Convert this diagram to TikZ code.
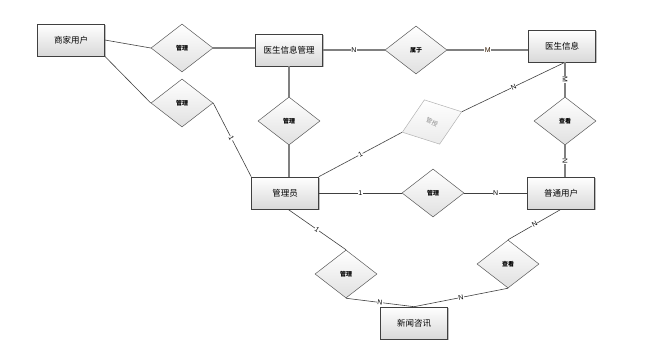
\documentclass[tikz,border=0pt]{standalone}
\usepackage{graphicx}
\usepackage{fontspec}
\newfontfamily\cjk{Noto Sans CJK SC}
\setmainfont{Liberation Sans}
\usetikzlibrary{shapes.geometric,shadows}
\begin{document}
\begin{tikzpicture}[x=1pt,y=-1pt,
  entity/.style={draw=black!75, line width=0.6pt, top color=white, bottom color=black!15,
    minimum width=67pt, minimum height=32pt, inner sep=0pt, font=\cjk\fontsize{8.5}{10}\selectfont,
    drop shadow={shadow xshift=1.2pt, shadow yshift=-1.2pt, fill=black!25, opacity=1}},
  rel/.style={diamond, draw=black!65, line width=0.5pt, top color=white, bottom color=black!12,
    minimum width=62pt, minimum height=48pt, inner sep=0pt, aspect=1.3,
    font=\cjk\bfseries\fontsize{6}{7}\selectfont},
  thin/.style={draw=black!75, line width=0.6pt},
  thick/.style={draw=black!50, line width=1.1pt},
  lab/.style={font=\fontsize{7}{8}\selectfont, fill=white, inner sep=0.4pt, sloped}
]
\useasboundingbox (0,0) rectangle (671,344);

% entities
\node[entity] (sj) at (71,40) {商家用户};
\node[entity] (ysm) at (289,50) {医生信息管理};
\node[entity] (ys) at (562,46) {医生信息};
\node[entity] (gly) at (285,193) {管理员};
\node[entity] (pt) at (561,193) {普通用户};
\node[entity] (xw) at (414,323) {新闻咨讯};

% relations
\node[rel] (r1) at (182,48) {管理};
\node[rel] (r2) at (182,103) {管理};
\node[rel] (r3) at (289,121) {管理};
\node[rel] (r4) at (416,50) {属于};
\node[rel] (r6) at (565,121) {查看};
\node[rel] (r7) at (433,193) {管理};
\node[rel] (r8) at (346,274) {管理};
\node[rel] (r9) at (508,264) {查看};
\node[diamond, draw=black!30, line width=0.5pt, top color=white, bottom color=black!8,
  minimum width=63pt, minimum height=47pt, inner sep=0pt, aspect=1.3, rotate=19,
  font=\cjk\fontsize{6}{7}\selectfont, text=black!45] (r5) at (432,122) {\rotatebox{-44}{管授}};

% connectors
\draw[thin] (sj.east |- 0,40) -- (r1.west);
\draw[thick] (r1.east) -- (ysm.west |- r1.east);
\draw[thin] (sj.south east) -- (r2.west);
\draw[thin] (r2.east) -- node[lab, pos=0.48]{1} (gly.north west);
\draw[thick] (ysm.south) -- (r3.north);
\draw[thick] (r3.south) -- (gly.north -| r3.south);
\draw[thick] (ysm.east) -- node[lab]{N} (r4.west);
\draw[thick] (r4.east) -- node[lab, text=black!80!orange]{M} (ys.west |- r4.east);
\draw[thin] (gly.north east) -- node[lab]{1} (r5.west);
\draw[thin] (r5.east) -- node[lab]{N} (ys.south -| r6.north);
\draw[thick] (ys.south -| r6.north) -- node[lab]{M} (r6.north);
\draw[thick] (r6.south) -- node[lab]{N} (pt.north -| r6.south);
\draw[thin] (gly.east) -- node[lab]{1} (r7.west);
\draw[thin] (r7.east) -- node[lab]{N} (pt.west);
\draw[thin] ([xshift=3pt]gly.south) -- node[lab]{1} (r8.north);
\draw[thin] (r8.south) -- node[lab]{N} (xw.north);
\draw[thin] (xw.north) -- node[lab]{N} (r9.south);
\draw[thin] (r9.north) -- node[lab]{N} (pt.south);
\end{tikzpicture}
\end{document}
